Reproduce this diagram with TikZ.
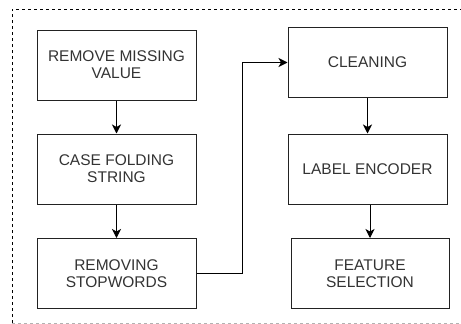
\documentclass[tikz,border=0pt]{standalone}
\usepackage{fontspec}
\setmainfont{Liberation Sans}
\usetikzlibrary{arrows.meta}
\definecolor{txt}{HTML}{333333}
\definecolor{edge}{HTML}{222222}
\begin{document}
\begin{tikzpicture}[x=1pt,y=-1pt,
  procbox/.style={draw=edge,line width=1pt,fill=white,minimum width=159pt,minimum height=70pt,
    inner sep=0pt,align=center,text=txt,font=\fontsize{15.5}{17}\selectfont},
  conn/.style={draw=black,line width=1pt,-{Stealth[length=9pt,width=9pt,inset=2.5pt]}}]
\useasboundingbox (0,0) rectangle (461,324);
% frame
\draw[dashed,black,line width=0.8pt] (12,323) -- (12,9) -- (461,9);
\draw[dashed,gray!60,line width=0.8pt] (12,323) -- (461,323);
% boxes
\node[procbox] (rm) at (116.5,65) {REMOVE MISSING\\VALUE};
\node[procbox] (cf) at (116.5,169) {CASE FOLDING\\STRING};
\node[procbox] (rs) at (116.5,273.5) {REMOVING\\STOPWORDS};
\node[procbox] (cl) at (367.5,62.5) {CLEANING};
\node[procbox] (le) at (367.5,169) {LABEL ENCODER};
\node[procbox,minimum width=158pt] (fs) at (370,273.5) {FEATURE\\SELECTION};
% connectors
\draw[conn] (rm) -- (cf);
\draw[conn] (cf) -- (rs);
\draw[conn] (rs.east) -- (242,273.5) -- (242,62.5) -- (cl.west);
\draw[conn] (cl) -- (le);
\draw[conn] (le.south -| fs.north) -- (fs.north);
\end{tikzpicture}
\end{document}
